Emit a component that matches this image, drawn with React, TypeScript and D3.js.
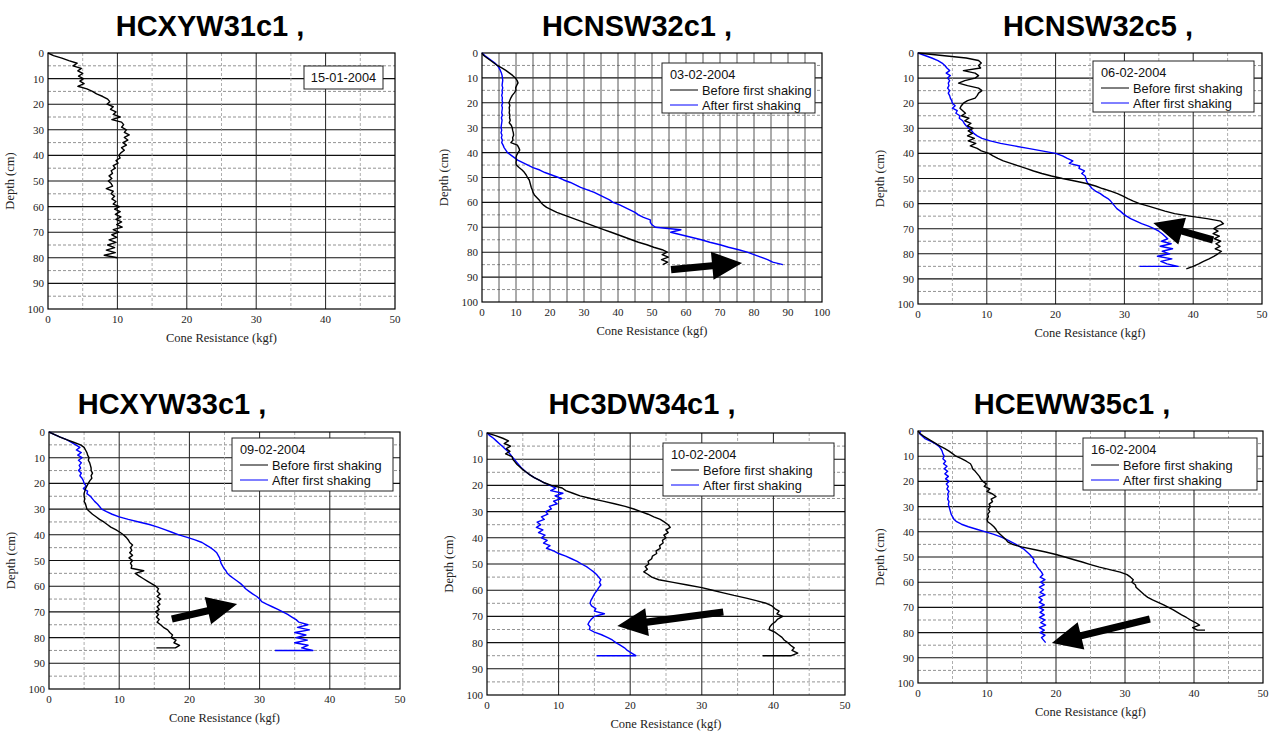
import React from "react";
import { scaleLinear, line } from "d3";

// ---- data ----
const panelTitles = ["HCXYW31c1 ,", "HCNSW32c1 ,", "HCNSW32c5 ,", "HCXYW33c1 ,", "HC3DW34c1 ,", "HCEWW35c1 ,"];
const testDates = ["15-01-2004", "03-02-2004", "06-02-2004", "09-02-2004", "10-02-2004", "16-02-2004"];
const legendLabels = ["Before first shaking", "After first shaking"];
const xMaxima = [50, 100, 50, 50, 50, 50];
const depthTicks = [0, 10, 20, 30, 40, 50, 60, 70, 80, 90, 100];
const kgfTicks50 = [0, 10, 20, 30, 40, 50];
const kgfTicks100 = [0, 10, 20, 30, 40, 50, 60, 70, 80, 90, 100];

// cone resistance (kgf), one reading per cm of depth starting at 0 cm
const p1Before = [0, 0.8, 2.0, 3.0, 4.2, 3.6, 4.8, 4.3, 5.0, 4.4, 5.1, 4.6, 5.2, 4.3, 5.6, 6.4, 7.0, 7.9, 8.6, 8.9,
  8.5, 9.4, 9.0, 9.8, 9.4, 10.4, 9.2, 10.6, 10.9, 10.6, 11.3, 11.0, 11.7, 11.0, 11.5, 10.8, 11.3, 10.6, 11.0, 10.5,
  10.2, 10.4, 9.8, 10.1, 9.4, 9.7, 9.1, 9.3, 8.8, 9.2, 8.7, 9.1, 9.3, 8.4, 9.4, 9.1, 9.6, 9.2, 9.8, 9.4,
  10.3, 9.6, 10.4, 9.7, 10.5, 9.8, 10.6, 9.9, 10.7, 9.4, 10.2, 9.2, 9.9, 8.8, 9.8, 8.6, 9.6, 8.4, 9.7, 8.1, 10.0];

const p2Before = [0, 0.5, 1.5, 2.5, 3.5, 4.5, 5.8, 7.0, 8.0, 9.0, 9.8, 10.3, 10.6, 10.2, 9.9, 10.0, 9.5, 8.9, 8.5, 8.2,
  7.9, 8.2, 8.0, 8.1, 8.0, 8.2, 8.1, 8.3, 8.0, 8.6, 8.9, 9.0, 9.2, 9.3, 9.0, 9.1, 8.5, 10.4, 10.8, 11.1,
  10.6, 10.2, 10.0, 10.1, 10.0, 10.1, 10.9, 11.8, 12.5, 13.0, 13.4, 13.9, 14.1, 14.3, 14.5, 14.8, 15.0, 15.4, 16.1, 16.8,
  17.3, 18.0, 19.0, 20.5, 22.0, 24.0, 26.0, 28.0, 30.0, 32.0, 34.0, 36.0, 38.0, 40.0, 42.0, 44.0, 46.0, 48.5, 50.5, 53.0,
  54.5, 53.0, 54.8, 52.8, 54.6, 53.2];
const p2After = [0, 0.8, 1.8, 2.8, 3.8, 4.5, 5.0, 5.4, 5.7, 5.9, 6.0, 6.1, 6.0, 5.9, 6.1, 5.9, 6.0, 5.8, 6.0, 5.9,
  6.1, 5.8, 6.0, 5.9, 5.8, 6.0, 5.7, 5.9, 5.8, 5.7, 5.6, 5.8, 5.6, 5.9, 5.7, 6.0, 5.8, 6.2, 6.5, 7.0,
  7.5, 8.5, 9.5, 10.5, 12.0, 13.5, 15.0, 17.0, 18.5, 20.5, 22.5, 24.0, 26.0, 27.5, 29.0, 31.0, 33.0, 34.5, 36.0, 37.5,
  38.5, 40.5, 42.0, 43.5, 45.0, 46.0, 47.5, 49.5, 49.5, 50.0, 51.0, 58.5, 55.5, 58.5, 61.5, 64.5, 67.0, 70.0, 72.5, 75.5,
  78.0, 80.0, 82.0, 84.0, 85.5, 88.5];

const p3Before = [0, 3.5, 7.0, 8.8, 9.2, 8.8, 9.1, 6.6, 8.3, 8.8, 8.3, 6.8, 5.9, 7.2, 8.8, 9.3, 8.8, 8.6, 8.3, 7.2,
  6.6, 6.3, 6.1, 6.5, 6.9, 6.3, 7.4, 6.8, 7.7, 7.2, 8.0, 7.3, 7.9, 7.2, 8.2, 7.3, 8.4, 7.6, 8.6, 9.2,
  10.3, 10.9, 11.6, 12.4, 13.5, 14.6, 15.7, 16.8, 18.0, 19.4, 21.0, 22.8, 24.5, 25.8, 26.8, 28.0, 29.0, 29.8, 30.5, 31.3,
  32.2, 33.5, 34.7, 35.9, 37.3, 39.5, 42.0, 44.0, 44.4, 43.6, 43.0, 43.6, 42.9, 43.8, 43.1, 44.0, 43.3, 43.9, 43.2, 44.1,
  43.6, 43.0, 42.3, 41.5, 40.8, 40.0, 39.0];
const p3After = [0, 1.0, 2.0, 2.9, 3.5, 3.9, 4.2, 4.6, 4.1, 4.7, 4.3, 4.6, 4.4, 4.5, 4.3, 4.6, 4.4, 4.6, 4.7, 4.9,
  5.0, 5.4, 5.0, 5.7, 5.5, 6.1, 6.0, 6.5, 6.7, 7.0, 7.4, 7.8, 8.1, 8.6, 9.3, 10.5, 12.0, 14.0, 16.0, 18.0,
  20.0, 21.0, 21.7, 22.5, 22.0, 23.5, 23.4, 24.2, 23.8, 24.3, 24.4, 24.5, 24.7, 25.0, 25.3, 25.8, 26.5, 27.0, 27.6, 28.0,
  28.3, 28.6, 28.9, 29.4, 29.8, 30.3, 30.9, 31.7, 32.5, 33.5, 34.3, 35.0, 35.5, 35.9, 36.3, 35.4, 36.8, 35.2, 37.0, 35.5,
  36.6, 34.8, 36.9, 35.3, 36.2, 37.8];

const p4Before = [0, 0.8, 1.6, 2.5, 3.5, 4.5, 5.0, 5.2, 5.4, 5.5, 5.7, 5.6, 5.8, 5.9, 6.0, 6.0, 6.2, 6.0, 6.1, 5.8,
  5.6, 5.4, 5.2, 5.1, 5.0, 5.0, 5.1, 5.0, 5.2, 5.3, 5.4, 5.8, 6.2, 6.7, 7.2, 7.8, 8.3, 8.8, 9.5, 10.1,
  10.6, 11.0, 11.3, 11.5, 11.9, 11.6, 11.8, 11.5, 11.9, 11.4, 11.9, 11.6, 11.8, 11.7, 13.5, 12.3, 12.8, 13.4, 14.0, 14.6,
  15.2, 15.6, 15.4, 15.8, 15.4, 15.9, 15.5, 15.8, 15.4, 15.7, 15.2, 15.6, 15.3, 15.7, 15.4, 15.9, 16.3, 16.9, 17.2, 17.6,
  17.4, 18.1, 17.8, 18.6, 18.0];
const p4After = [0, 0.8, 1.6, 2.5, 3.2, 3.8, 4.4, 3.9, 4.6, 4.1, 4.7, 4.2, 4.6, 4.3, 4.5, 4.2, 4.6, 4.4, 4.7, 4.9,
  5.0, 5.3, 4.9, 5.5, 5.4, 5.9, 6.2, 6.5, 6.9, 7.2, 7.5, 8.2, 9.0, 10.0, 11.3, 12.8, 14.3, 15.5, 16.5, 17.5,
  18.5, 19.7, 20.8, 21.8, 22.4, 23.0, 23.5, 23.9, 24.1, 24.3, 24.4, 24.5, 24.7, 24.9, 25.2, 25.4, 25.8, 26.3, 26.8, 27.3,
  27.7, 28.0, 28.5, 29.0, 29.6, 30.0, 30.3, 31.0, 31.8, 32.6, 33.3, 34.0, 34.6, 35.2, 35.6, 36.9, 35.4, 37.1, 35.0, 36.6,
  35.2, 36.8, 35.0, 36.9, 36.0, 37.6];

const p5Before = [0, 1.2, 2.2, 3.0, 2.4, 3.3, 2.7, 3.2, 2.6, 3.5, 3.6, 3.9, 4.2, 4.6, 5.0, 5.5, 6.0, 6.6, 7.3, 8.0,
  9.0, 10.5, 11.0, 12.0, 13.0, 14.5, 16.2, 17.8, 19.3, 20.5, 21.5, 22.5, 23.3, 24.2, 24.8, 25.3, 25.6, 25.0, 25.3, 24.7,
  25.0, 24.5, 24.6, 24.1, 24.2, 23.6, 23.7, 23.1, 23.0, 22.5, 22.6, 22.1, 22.4, 21.9, 22.5, 23.0, 24.0, 26.0, 28.0, 30.0,
  31.5, 33.0, 34.5, 36.2, 37.6, 39.0, 39.8, 40.2, 40.8, 40.5, 41.3, 40.6, 40.3, 39.8, 39.5, 39.4, 40.2, 40.7, 41.2, 41.5,
  42.0, 42.4, 42.9, 42.6, 43.4, 42.5];
const p5After = [0, 0.4, 0.9, 1.3, 1.7, 2.1, 2.5, 2.9, 3.2, 3.5, 3.8, 4.1, 4.4, 4.7, 5.1, 5.5, 6.0, 6.6, 7.3, 8.0,
  8.8, 9.6, 8.9, 10.6, 9.5, 10.4, 9.3, 9.8, 8.7, 9.0, 8.2, 8.5, 7.6, 8.0, 7.0, 7.5, 6.9, 7.8, 7.2, 8.1,
  7.6, 8.4, 7.9, 8.8, 8.3, 9.3, 10.0, 11.0, 11.8, 12.6, 13.2, 13.9, 14.4, 14.9, 15.3, 15.6, 15.9, 15.7, 15.9, 15.6,
  15.4, 15.1, 14.9, 14.7, 14.5, 14.4, 14.6, 15.2, 15.0, 16.4, 15.0, 14.6, 14.3, 14.1, 14.4, 14.3, 15.0, 16.0, 16.8, 17.5,
  18.0, 18.6, 19.2, 19.6, 20.2, 20.8];

const p6Before = [0, 0.3, 0.8, 1.4, 2.0, 2.6, 3.2, 3.9, 4.5, 5.0, 5.5, 6.3, 7.0, 7.6, 7.8, 7.9, 8.3, 8.6, 8.9, 9.1,
  9.4, 9.9, 9.6, 10.4, 10.0, 10.8, 11.3, 10.6, 10.8, 10.3, 10.5, 10.2, 10.4, 10.1, 10.2, 10.0, 10.1, 10.6, 11.0, 11.3,
  11.5, 11.9, 12.3, 12.7, 13.0, 13.7, 15.0, 16.8, 18.5, 20.0, 21.3, 22.5, 23.8, 25.0, 26.3, 27.8, 29.3, 30.3, 30.8, 31.2,
  31.0, 31.5, 31.6, 32.0, 32.4, 32.8, 33.3, 34.0, 34.8, 35.6, 36.3, 37.0, 37.6, 38.2, 38.9, 39.5, 40.2, 40.8, 39.8, 40.5];
const p6After = [0.4, 0.2, 0.6, 1.0, 1.8, 2.5, 3.0, 3.3, 3.5, 3.6, 3.8, 3.6, 4.0, 3.7, 4.2, 3.8, 4.3, 3.9, 4.4, 4.0,
  4.5, 4.1, 4.4, 4.2, 4.5, 4.3, 4.4, 4.3, 4.5, 4.4, 4.5, 4.6, 4.7, 4.8, 5.0, 5.2, 5.6, 6.3, 7.3, 8.5,
  9.8, 11.0, 12.0, 12.8, 13.5, 14.2, 14.8, 15.4, 15.8, 16.2, 16.5, 16.8, 16.7, 17.1, 17.3, 17.6, 17.9, 18.1, 17.7, 18.4,
  17.8, 18.3, 17.6, 18.2, 17.7, 18.4, 17.5, 18.0, 17.6, 18.3, 17.5, 18.2, 17.7, 18.3, 17.6, 18.4, 17.8, 18.5, 17.6, 18.3,
  17.7, 18.4, 17.9, 18.2, 18.5];

const beforeSeries = [p1Before, p2Before, p3Before, p4Before, p5Before, p6Before];
const afterSeries = [null, p2After, p3After, p4After, p5After, p6After];
// horizontal end strokes at the last depth reading (kgf)
const beforeTails = [null, null, null, 15.3, 38.5, 41.6];
const afterTails = [null, null, 32.2, 32.2, 15.3, null];
// arrows: [kgf from, depth from, kgf to, depth to]
const arrows = [null, [55.6, 87, 76.5, 84.3], [42.9, 74.5, 34.2, 67.7], [17.5, 72.8, 26.8, 66.9], [33.0, 68.3, 18.2, 73.7], [33.6, 74.6, 19.4, 84.1]];

// ---- layout ----
const boxes = [
  { l: 48, t: 53, r: 395, b: 309, tx: 210, ty: 36, lw: 79, lh: 23, lr: 12, lt: 13 },
  { l: 482, t: 53, r: 822, b: 302, tx: 637, ty: 36, lw: 153, lh: 50, lr: 7, lt: 10 },
  { l: 918, t: 53, r: 1262, b: 304, tx: 1098, ty: 36, lw: 161, lh: 51, lr: 8, lt: 8 },
  { l: 49, t: 432, r: 400, b: 689, tx: 172, ty: 414, lw: 161, lh: 53, lr: 7, lt: 6 },
  { l: 487, t: 433, r: 845, b: 695, tx: 642, ty: 414, lw: 171, lh: 53, lr: 11, lt: 10 },
  { l: 918, t: 431, r: 1263, b: 683, tx: 1072, ty: 414, lw: 174, lh: 52, lr: 6, lt: 7 },
];

const serif = "'Liberation Serif', 'Times New Roman', serif";
const sans = "'Liberation Sans', Arial, sans-serif";

function arrowPoints(x1: number, y1: number, x2: number, y2: number) {
  const shaft = 3.6, headLen = 30, headHalf = 14;
  const dx = x2 - x1, dy = y2 - y1, len = Math.hypot(dx, dy);
  const ux = dx / len, uy = dy / len, nx = -uy, ny = ux;
  const bx = x2 - ux * headLen, by = y2 - uy * headLen;
  const pts = [
    [x1 + nx * shaft, y1 + ny * shaft],
    [bx + nx * shaft, by + ny * shaft],
    [bx + nx * headHalf, by + ny * headHalf],
    [x2, y2],
    [bx - nx * headHalf, by - ny * headHalf],
    [bx - nx * shaft, by - ny * shaft],
    [x1 - nx * shaft, y1 - ny * shaft],
  ];
  return pts.map((p) => p.join(",")).join(" ");
}

function Panel({ i }: { i: number }) {
  const bx = boxes[i];
  const xMax = xMaxima[i];
  const x = scaleLinear().domain([0, xMax]).range([bx.l, bx.r]);
  const y = scaleLinear().domain([0, 100]).range([bx.t, bx.b]);
  const gen = line<number[]>().x((d) => x(d[0])).y((d) => y(d[1]));

  const toPts = (vals: number[], tail: number | null) => {
    const pts = vals.map((v, d) => [v, d]);
    if (tail != null) pts.push([tail, vals.length - 1]);
    return pts;
  };

  const fives = Array.from({ length: xMax / 5 + 1 }, (_, k) => k * 5);
  const depthFives = Array.from({ length: 21 }, (_, k) => k * 5);
  const xTicks = xMax === 100 ? kgfTicks100 : kgfTicks50;
  const wide = xMax === 100;
  const after = afterSeries[i];
  const arrow = arrows[i];
  const legX = bx.r - bx.lr - bx.lw;
  const legY = bx.t + bx.lt;

  return (
    <g>
      <text x={bx.tx} y={bx.ty} textAnchor="middle" fontFamily={sans} fontWeight="bold" fontSize={29} fill="#000">
        {panelTitles[i]}
      </text>
      {/* horizontal grid */}
      {depthFives.filter((d) => d > 0 && d < 100).map((d) => (
        <line key={"h" + d} x1={bx.l} x2={bx.r} y1={y(d)} y2={y(d)}
          stroke={d % 10 === 0 ? "#111" : "#777"} strokeWidth={d % 10 === 0 ? 1.1 : 0.8}
          strokeDasharray={d % 10 === 0 ? undefined : "3 2"} />
      ))}
      {/* vertical grid */}
      {fives.filter((v) => v > 0 && v < xMax).map((v) => (
        <line key={"v" + v} x1={x(v)} x2={x(v)} y1={bx.t} y2={bx.b}
          stroke={wide ? "#444" : v % 10 === 0 ? "#222" : "#999"} strokeWidth={wide ? 0.9 : v % 10 === 0 ? 1 : 0.8}
          strokeDasharray={wide || v % 10 === 0 ? undefined : "3 2"} />
      ))}
      <rect x={bx.l} y={bx.t} width={bx.r - bx.l} height={bx.b - bx.t} fill="none" stroke="#000" strokeWidth={1.2} />
      {/* ticks */}
      {depthTicks.map((d) => (
        <text key={"yt" + d} x={bx.l - 4} y={y(d) + 4} textAnchor="end" fontFamily={serif} fontSize={11} fill="#222">{d}</text>
      ))}
      {xTicks.map((v) => (
        <text key={"xt" + v} x={x(v)} y={bx.b + 14} textAnchor="middle" fontFamily={serif} fontSize={11} fill="#222">{v}</text>
      ))}
      <text x={(bx.l + bx.r) / 2} y={bx.b + 33} textAnchor="middle" fontFamily={serif} fontSize={12.5} fill="#222">
        Cone Resistance (kgf)
      </text>
      <text transform={`translate(${bx.l - 34},${(bx.t + bx.b) / 2}) rotate(-90)`} textAnchor="middle" fontFamily={serif} fontSize={12.5} fill="#222">
        Depth (cm)
      </text>
      {/* profiles */}
      {after && (
        <path d={gen(toPts(after, afterTails[i])) || ""} fill="none" stroke="#0000ff" strokeWidth={1.4} strokeLinejoin="round" />
      )}
      <path d={gen(toPts(beforeSeries[i], beforeTails[i])) || ""} fill="none" stroke="#000" strokeWidth={1.4} strokeLinejoin="round" />
      {arrow && (
        <polygon points={arrowPoints(x(arrow[0]), y(arrow[1]), x(arrow[2]), y(arrow[3]))} fill="#000" />
      )}
      {/* legend */}
      <rect x={legX} y={legY} width={bx.lw} height={bx.lh} fill="#fff" stroke="#222" strokeWidth={1} />
      {after ? (
        <g fontFamily={sans} fontSize={12.8} fill="#111">
          <text x={legX + 8} y={legY + 16}>{testDates[i]}</text>
          <line x1={legX + 8} x2={legX + 36} y1={legY + 27} y2={legY + 27} stroke="#000" strokeWidth={1} />
          <text x={legX + 40} y={legY + 31.5}>{legendLabels[0]}</text>
          <line x1={legX + 8} x2={legX + 36} y1={legY + 42} y2={legY + 42} stroke="#0000ff" strokeWidth={1} />
          <text x={legX + 40} y={legY + 46.5}>{legendLabels[1]}</text>
        </g>
      ) : (
        <text x={legX + bx.lw / 2} y={legY + 16} textAnchor="middle" fontFamily={sans} fontSize={12.8} fill="#111">
          {testDates[i]}
        </text>
      )}
    </g>
  );
}

export default function App() {
  return (
    <svg width={1275} height={736} style={{ position: "absolute", left: 0, top: 0, background: "#fff" }}>
      <rect width={1275} height={736} fill="#fff" />
      {boxes.map((_, i) => (
        <Panel key={i} i={i} />
      ))}
    </svg>
  );
}
